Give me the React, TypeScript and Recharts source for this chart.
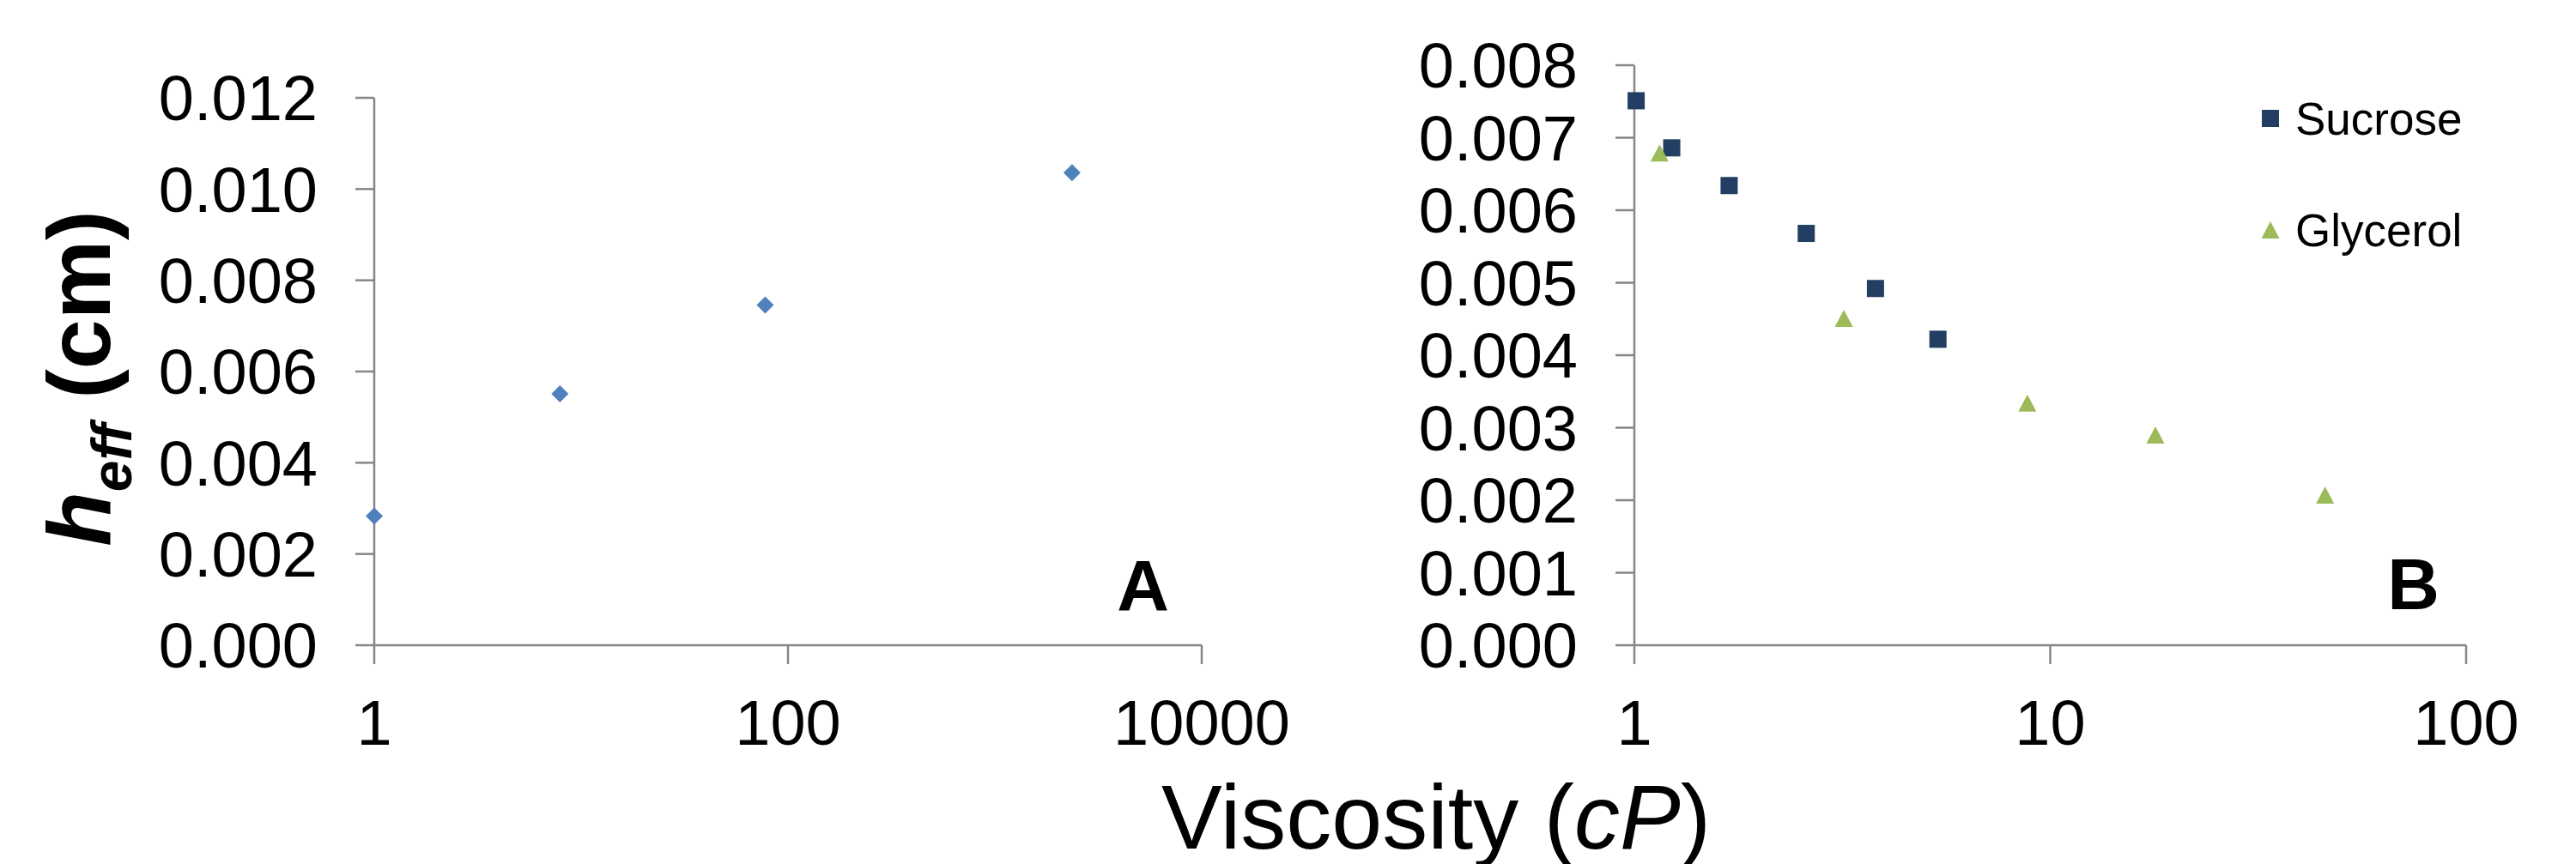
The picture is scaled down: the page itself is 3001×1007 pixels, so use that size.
import React from 'react';
import { ScatterChart, Scatter, XAxis, YAxis, Legend, Customized } from 'recharts';

// panel A: single series, viscosity vs h_eff
const viscA = [1, 7.9, 77.6, 2360];
const heffA = [0.00283, 0.00551, 0.00746, 0.01036];

// panel B: sucrose and glycerol solutions
const seriesNames = ['Sucrose', 'Glycerol'];
const viscSucrose = [1.01, 1.23, 1.69, 2.59, 3.8, 5.37];
const heffSucrose = [0.00751, 0.00686, 0.00634, 0.00568, 0.00492, 0.00422];
const viscGlycerol = [1.15, 3.19, 8.81, 17.9, 45.8];
const heffGlycerol = [0.00679, 0.00451, 0.00334, 0.0029, 0.00207];

const xTicksA = [1, 100, 10000];
const yTicksA = [0, 0.002, 0.004, 0.006, 0.008, 0.01, 0.012];
const xTicksB = [1, 10, 100];
const yTicksB = [0, 0.001, 0.002, 0.003, 0.004, 0.005, 0.006, 0.007, 0.008];

const FONT = '"Liberation Sans", Arial, sans-serif';
const AXIS = '#868686';

const toPoints = (xs: number[], ys: number[]) => xs.map((x, i) => ({ x, y: ys[i] }));

const dataA = toPoints(viscA, heffA);
const dataSucrose = toPoints(viscSucrose, heffSucrose);
const dataGlycerol = toPoints(viscGlycerol, heffGlycerol);

const tickStyle = { fontSize: 74, fill: '#000', fontFamily: FONT };

const Diamond = (p: any) => (
  <polygon points={`${p.cx},${p.cy - 10} ${p.cx + 10},${p.cy} ${p.cx},${p.cy + 10} ${p.cx - 10},${p.cy}`} fill="#4F81BD" />
);
const Square = (p: any) => <rect x={p.cx - 10} y={p.cy - 10} width={20} height={20} fill="#223F63" />;
const Triangle = (p: any) => (
  <polygon points={`${p.cx},${p.cy - 10} ${p.cx + 10.5},${p.cy + 10} ${p.cx - 10.5},${p.cy + 10}`} fill="#9BBB59" />
);

const YTitle = () => (
  <text
    x={128}
    y={441}
    transform="rotate(-90, 128, 441)"
    textAnchor="middle"
    fontFamily={FONT}
    fontWeight="bold"
    fontSize={104}
    fill="#000"
  >
    <tspan fontStyle="italic">h</tspan>
    <tspan fontStyle="italic" fontSize={66} dy={25}>eff</tspan>
    <tspan dy={-25}> (cm)</tspan>
  </text>
);

const renderLegend = (props: any) => {
  const payload = [...(props.payload || [])].sort(
    (a: any, b: any) => seriesNames.indexOf(a.value) - seriesNames.indexOf(b.value)
  );
  return (
    <svg width={260} height={200} style={{ display: 'block' }}>
      {payload.map((entry: any, i: number) => {
        const cy = 38 + i * 130;
        return (
          <g key={entry.value}>
            {entry.type === 'triangle' ? (
              <polygon points={`15,${cy - 10} 25.5,${cy + 10} 4.5,${cy + 10}`} fill={entry.color} />
            ) : (
              <rect x={5} y={cy - 10} width={20} height={20} fill={entry.color} />
            )}
            <text x={44} y={cy + 19} fontFamily={FONT} fontSize={53} fill="#000">
              {entry.value}
            </text>
          </g>
        );
      })}
    </svg>
  );
};

const PanelLetter = ({ x, y, text }: { x: number; y: number; text: string }) => (
  <text x={x} y={y} textAnchor="end" fontFamily={FONT} fontWeight="bold" fontSize={84} fill="#000">
    {text}
  </text>
);

const axisProps = {
  type: 'number' as const,
  tick: tickStyle,
  tickSize: 22,
  interval: 0 as const,
  axisLine: { stroke: AXIS, strokeWidth: 2.5 },
  tickLine: { stroke: AXIS, strokeWidth: 2.5 },
};

export default function App() {
  return (
    <div style={{ position: 'absolute', left: 0, top: 0, width: 3001, height: 1007, background: '#fff', overflow: 'hidden' }}>
      <div style={{ position: 'absolute', left: 0, top: 0 }}>
        <ScatterChart width={1560} height={1007} margin={{ top: 114, right: 160, bottom: 105, left: 0 }}>
          <XAxis {...axisProps} dataKey="x" scale="log" domain={[1, 10000]} ticks={xTicksA} height={150} tickMargin={41} />
          <YAxis
            {...axisProps}
            dataKey="y"
            domain={[0, 0.012]}
            ticks={yTicksA}
            width={436}
            tickMargin={44}
            tickFormatter={(v: number) => v.toFixed(3)}
            label={YTitle}
          />
          <Scatter data={dataA} shape={Diamond} isAnimationActive={false} />
          <Customized component={() => <PanelLetter x={1362} y={712} text="A" />} />
        </ScatterChart>
      </div>
      <div style={{ position: 'absolute', left: 1600, top: 0 }}>
        <ScatterChart width={1401} height={1007} margin={{ top: 76, right: 128, bottom: 105, left: 0 }}>
          <XAxis {...axisProps} dataKey="x" scale="log" domain={[1, 100]} ticks={xTicksB} height={150} tickMargin={41} />
          <YAxis
            {...axisProps}
            dataKey="y"
            domain={[0, 0.008]}
            ticks={yTicksB}
            width={304}
            tickMargin={44}
            tickFormatter={(v: number) => v.toFixed(3)}
          />
          <Scatter name={seriesNames[0]} data={dataSucrose} fill="#223F63" legendType="square" shape={Square} isAnimationActive={false} />
          <Scatter name={seriesNames[1]} data={dataGlycerol} fill="#9BBB59" legendType="triangle" shape={Triangle} isAnimationActive={false} />
          <Legend
            layout="vertical"
            align="center"
            verticalAlign="middle"
            content={renderLegend}
            wrapperStyle={{ left: 1030, top: 100, width: 260, height: 200 }}
          />
          <Customized component={() => <PanelLetter x={1242} y={710} text="B" />} />
        </ScatterChart>
      </div>
      <svg width={800} height={140} style={{ position: 'absolute', left: 1273, top: 867 }}>
        <text x={400} y={122} textAnchor="middle" fontFamily={FONT} fontSize={106} fill="#000">
          Viscosity (<tspan fontStyle="italic">cP</tspan>)
        </text>
      </svg>
    </div>
  );
}
